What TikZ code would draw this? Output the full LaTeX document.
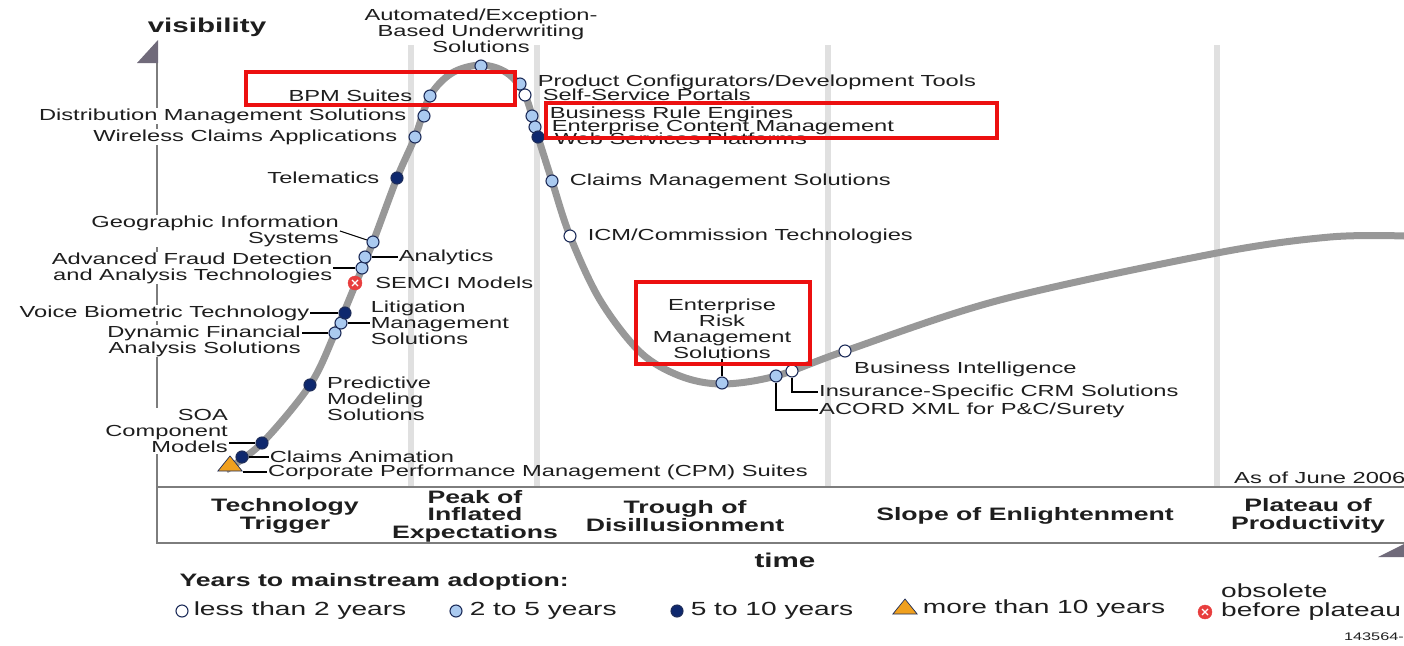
\documentclass[tikz,border=0pt]{standalone}
\usepackage{fontspec}
\setmainfont{Liberation Sans}[FakeStretch=1.48]
\usepackage{tikz}
\usetikzlibrary{shapes}
\usetikzlibrary{positioning}
\definecolor{hypegray}{RGB}{152,152,152}
\definecolor{sepgray}{RGB}{224,224,224}
\definecolor{axisgray}{RGB}{125,125,125}
\definecolor{flaggray}{RGB}{112,106,122}
\definecolor{ltblue}{RGB}{170,202,240}
\definecolor{navy}{RGB}{14,40,110}
\definecolor{dotline}{RGB}{30,45,90}
\definecolor{orng}{RGB}{240,160,30}
\definecolor{obsred}{RGB}{232,62,62}
\definecolor{hlred}{RGB}{236,16,16}
\definecolor{txtgray}{RGB}{30,30,30}
\newcommand\lblsize{\fontsize{16}{16}\selectfont}
\newcommand\phasesize{\fontsize{18}{17.5}\selectfont}
\newcommand\lgsize{\fontsize{19}{19}\selectfont}
\tikzstyle{dotbase}=[circle,draw=dotline,line width=1.1pt,minimum size=12pt,inner sep=0pt]
\tikzstyle{dotwh}=[dotbase,fill=white]
\tikzstyle{dotlb}=[dotbase,fill=ltblue]
\tikzstyle{dotnv}=[dotbase,fill=navy]
\tikzstyle{dottri}=[regular polygon,regular polygon sides=3,draw=dotline,line width=0.7pt,fill=orng,minimum size=20pt,inner sep=0pt,xscale=1.4]
\tikzstyle{dotobs}=[circle,fill=obsred,draw=obsred,minimum size=14pt,inner sep=0pt,path picture={
  \draw[white,line width=1.3pt] ([shift={(-3pt,-3pt)}]path picture bounding box.center) -- ([shift={(3pt,3pt)}]path picture bounding box.center);
  \draw[white,line width=1.3pt] ([shift={(-3pt,3pt)}]path picture bounding box.center) -- ([shift={(3pt,-3pt)}]path picture bounding box.center);}]
\tikzstyle{lbl}=[text=txtgray,font=\lblsize,inner sep=1pt,align=left]
\tikzstyle{lblw}=[lbl,fill=white]
\tikzstyle{lead}=[draw=black,line width=1.1pt]
\tikzstyle{phase}=[text=txtgray,font=\phasesize\bfseries,align=center]
\tikzstyle{axtitle}=[text=txtgray,font=\fontsize{20}{20}\selectfont\bfseries]
\tikzstyle{lgtxt}=[text=txtgray,font=\lgsize,inner sep=1pt,align=left]
\tikzstyle{redbox}=[draw=hlred,line width=3.5pt]
\tikzstyle{phasesep}=[draw=sepgray,line width=6pt]
\tikzstyle{axisline}=[draw=axisgray,line width=2pt]
\tikzstyle{hype}=[draw=hypegray,line width=7pt]

\begin{document}
\begin{tikzpicture}[x=1pt,y=-1pt]
	\useasboundingbox (0,0) rectangle (1404,645);
	\foreach \x in {411,537,828,1217} \draw[phasesep] (\x,45) -- (\x,487);
	\draw[axisline] (157,44) -- (157,543) -- (1404,543);
	\draw[axisline] (157,487) -- (1404,487);
	\fill[flaggray] (158,40) -- (158,63) -- (137,63) -- cycle;
	\fill[flaggray] (1404,544) -- (1378,557) -- (1404,557) -- cycle;
	\node[axtitle] (vis) at (207,27) {visibility};
	\node[axtitle] (time) at (785,560) {time};
	\node[lbl,anchor=west] (asof) at (1233,478) {As of June 2006};
	
	\node[phase] (trig) at (285,516) {Technology\\Trigger};
	\node[phase] (peak) at (475,516) {Peak of\\Inflated\\Expectations};
	\node[phase] (trough) at (685,516) {Trough of\\Disillusionment};
	\node[phase] (slope) at (1025,516) {Slope of Enlightenment};
	\node[phase] (plat) at (1308,516) {Plateau of\\Productivity};
	
	\draw[hype] plot[smooth,tension=0.55] coordinates {(226,470) (262,443) (310,385) (335,333) (356,283) (373,242) (397,178) (415,137) (430,96) (452,73) (481,65) (507,73) (525,95) (538,137) (552,181) (570,236) (600,300) (640,352) (680,376) (722,384) (776,376) (845,351) (1000,300) (1217,253) (1330,237) (1404,236)};
	
	\node[dottri] (cpm) at (230,466) {};
	\node[dotnv] (cla) at (242,457) {};
	\node[dotnv] (soa) at (262,443) {};
	\node[dotnv] (pms) at (310,385) {};
	\node[dotlb] (dfa) at (335,333) {};
	\node[dotlb] (lit) at (341,323) {};
	\node[dotnv] (vbt) at (345,313) {};
	\node[dotobs] (semci) at (355,283) {};
	\node[dotlb] (afd) at (362,268) {};
	\node[dotlb] (ana) at (365,257) {};
	\node[dotlb] (gis) at (373,242) {};
	\node[dotnv] (tel) at (397,178) {};
	\node[dotlb] (wca) at (415,137) {};
	\node[dotlb] (dms) at (424,116) {};
	\node[dotlb] (bpm) at (430,96) {};
	\node[dotlb] (aut) at (481,66) {};
	\node[dotlb] (pct) at (520,84) {};
	\node[dotwh] (ssp) at (525,95) {};
	\node[dotlb] (bre) at (532,116) {};
	\node[dotlb] (ecm) at (535,127) {};
	\node[dotnv] (wsp) at (538,137) {};
	\node[dotlb] (cms) at (552,181) {};
	\node[dotwh] (icm) at (570,236) {};
	\node[dotlb] (erm) at (722,383) {};
	\node[dotlb] (acord) at (776,376) {};
	\node[dotwh] (crm) at (792,371) {};
	\node[dotwh] (bi) at (845,351) {};
	
	\node[lbl,align=center,above=6pt of aut] (autl) {Automated/Exception-\\Based Underwriting\\Solutions};
	\node[lbl,left=10pt of bpm] (bpml) {BPM Suites};
	\node[lblw,left=10pt of dms] (dmsl) {Distribution Management Solutions};
	\node[lblw,left=10pt of wca] (wcal) {Wireless Claims Applications};
	\node[lbl,left=10pt of tel] (tell) {Telematics};
	\node[lblw,align=right,anchor=east] (gisl) at (340,231) {Geographic Information\\Systems};
	\draw[lead] (gisl.east) -- (gis);
	\node[lbl,right=26pt of ana] (anal) {Analytics};
	\draw[lead] (ana) -- (anal);
	\node[lblw,align=right,left=22pt of afd] (afdl) {Advanced Fraud Detection\\and Analysis Technologies};
	\draw[lead] (afdl) -- (afd);
	\node[lbl,right=12pt of semci] (semcil) {SEMCI Models};
	\node[lblw,left=28pt of vbt] (vbtl) {Voice Biometric Technology};
	\draw[lead] (vbtl) -- (vbt);
	\node[lbl,right=22pt of lit] (litl) {Litigation\\Management\\Solutions};
	\draw[lead] (lit) -- (litl);
	\node[lblw,align=right,anchor=east] (dfal) at (302,341) {Dynamic Financial\\Analysis Solutions};
	\draw[lead] (dfa) -- (dfa -| dfal.east);
	\node[lbl,anchor=west] (pmsl) at (326,399) {Predictive\\Modeling\\Solutions};
	\node[lblw,align=right,anchor=east] (soal) at (229,431) {SOA\\Component\\Models};
	\draw[lead] (soa) -- (soa -| soal.east);
	\node[lbl,right=20pt of cla] (clal) {Claims Animation};
	\draw[lead] (cla) -- (clal);
	\node[lbl,anchor=west] (cpml) at (267,472) {Corporate Performance Management (CPM) Suites};
	\draw[lead] (cpml.west) -- (cpml.west -| cpm.corner 3);
	
	\node[lbl,right=10pt of pct,yshift=2pt] (pctl) {Product Configurators/Development Tools};
	\node[lbl,right=10pt of ssp] (sspl) {Self-Service Portals};
	\node[lbl,right=10pt of bre,yshift=2pt] (brel) {Business Rule Engines};
	\node[lbl,right=9pt of ecm] (ecml) {Enterprise Content Management};
	\node[lbl,right=9pt of wsp,yshift=-2pt] (wspl) {Web Services Platforms};
	\node[lbl,right=10pt of cms] (cmsl) {Claims Management Solutions};
	\node[lbl,right=10pt of icm] (icml) {ICM/Commission Technologies};
	\node[lbl,align=center,above=17pt of erm] (ermL) {Enterprise\\Risk\\Management\\Solutions};
	\draw[lead] (ermL) -- (erm);
	\node[lbl,anchor=west] (bil) at (853,369) {Business Intelligence};
	\node[lbl,anchor=west] (crml) at (818,392) {Insurance-Specific CRM Solutions};
	\draw[lead] (crm) |- (crml.west);
	\node[lbl,anchor=west] (acordl) at (818,410) {ACORD XML for P\&C/Surety};
	\draw[lead] (acord) |- (acordl.west);
	
	\draw[redbox] (246,72) rectangle (515,105);
	\draw[redbox] (546,103) rectangle (997,138);
	\draw[redbox] (636,282) rectangle (810,364);
	
	\node[text=txtgray,font=\phasesize\bfseries,anchor=west] (yrs) at (176,582) {Years to mainstream adoption:};
	\node[dotwh] (lgwh) at (182,611) {};
	\node[lgtxt,right=4pt of lgwh] (lgwhl) {less than 2 years};
	\node[dotlb] (lglb) at (456,611) {};
	\node[lgtxt,right=6pt of lglb] (lglbl) {2 to 5 years};
	\node[dotnv] (lgnv) at (677,611) {};
	\node[lgtxt,right=6pt of lgnv] (lgnvl) {5 to 10 years};
	\node[dottri] (lgtri) at (905,609) {};
	\node[lgtxt,right=8pt of lgtri] (lgtril) {more than 10 years};
	\node[dotobs] (lgobs) at (1205,612) {};
	\node[lgtxt,anchor=west] (lgobsl) at (1220,602) {obsolete\\before plateau};
	\node[text=txtgray,font=\fontsize{11}{11}\selectfont,anchor=east,inner sep=0pt] (fig) at (1404,637) {143564-};
\end{tikzpicture}
\end{document}
